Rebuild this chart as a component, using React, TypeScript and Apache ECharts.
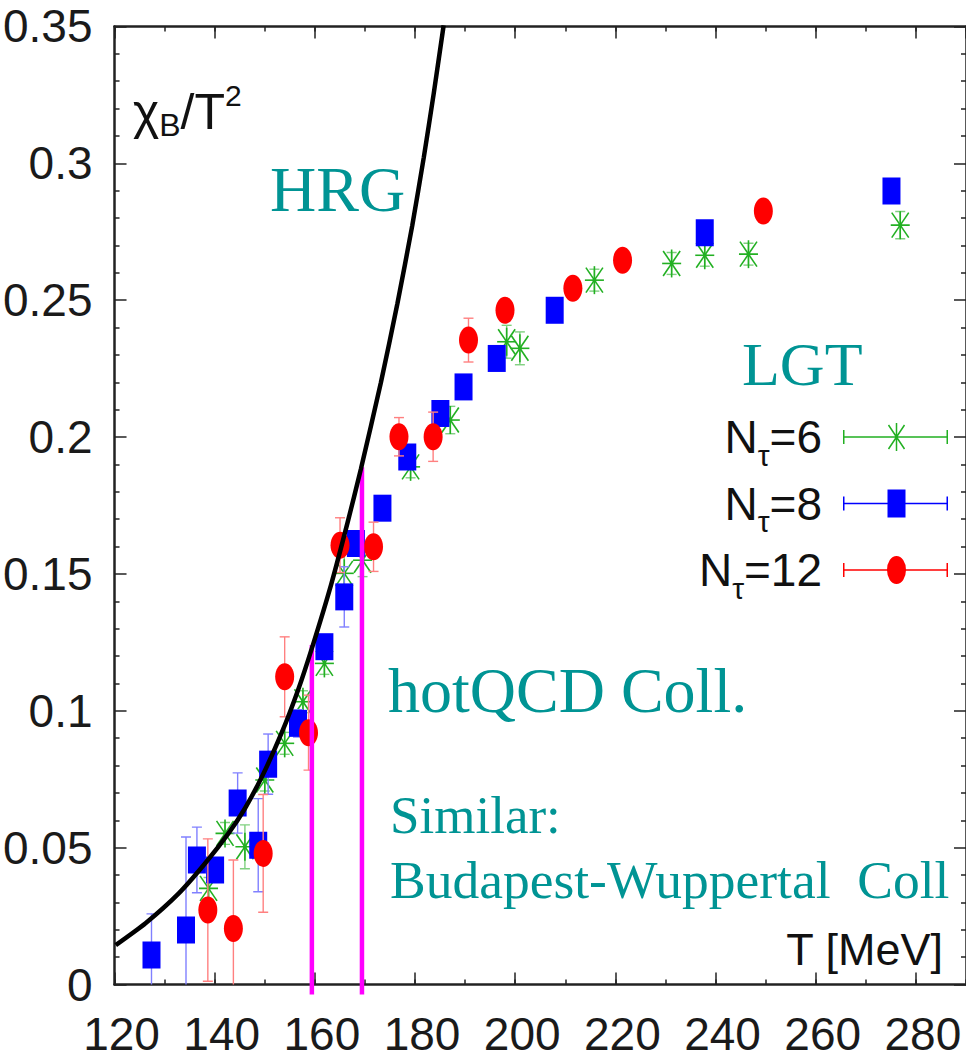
import React, { useEffect, useRef } from "react";
import * as echarts from "echarts";

// ---- Data ----
// HRG curve (T in MeV, chi_B/T^2)
const hrgT = [120.24, 126.19, 132.82, 138.1, 142.74, 146.03, 149.35, 153.32, 156.63, 159.6, 163.23, 166.55, 169.19, 173.16, 176.47, 179.44, 181.75, 183.73, 185.71];
const hrgChi = [0.0144, 0.0224, 0.0333, 0.0443, 0.0552, 0.0643, 0.0756, 0.0917, 0.1075, 0.124, 0.146, 0.1689, 0.1883, 0.2197, 0.2487, 0.2772, 0.3022, 0.3255, 0.3504];

// N_tau = 6 (green stars)
const nt6T = [138.77, 142.06, 146.03, 150.0, 153.97, 157.62, 161.9, 165.87, 169.52, 179.11, 187.04, 198.29, 200.93, 215.81, 231.23, 237.84, 246.57, 276.87];
const nt6Chi = [0.0351, 0.0552, 0.0503, 0.0747, 0.0881, 0.1033, 0.1173, 0.1502, 0.155, 0.1891, 0.2062, 0.2348, 0.2324, 0.2573, 0.2634, 0.2664, 0.2668, 0.2774];
const nt6Err = [0.004, 0.004, 0.008, 0.004, 0.004, 0.004, 0.004, 0.007, 0.006, 0.004, 0.005, 0.006, 0.006, 0.004, 0.004, 0.004, 0.004, 0.005];

// N_tau = 8 (blue squares)
const nt8T = [127.38, 134.27, 136.45, 140.08, 144.58, 148.69, 150.67, 156.63, 161.9, 165.87, 168.19, 173.49, 178.45, 185.06, 189.68, 196.31, 207.88, 237.84, 275.12];
const nt8Chi = [0.0108, 0.0199, 0.0455, 0.0418, 0.0663, 0.0509, 0.0805, 0.0954, 0.1234, 0.1416, 0.1611, 0.174, 0.1927, 0.2086, 0.2183, 0.2287, 0.2463, 0.2746, 0.2899];
const nt8Err = [0.015, 0.034, 0.012, 0.004, 0.011, 0.017, 0.011, 0.005, 0.004, 0.011, 0.004, 0.003, 0.003, 0.003, 0.003, 0.003, 0.003, 0.003, 0.003];

// N_tau = 12 (red circles)
const nt12T = [138.63, 143.73, 149.68, 153.97, 158.73, 165.02, 171.71, 176.79, 183.61, 190.67, 197.96, 211.51, 221.43, 249.54];
const nt12Chi = [0.0272, 0.0205, 0.0479, 0.1124, 0.092, 0.1605, 0.1599, 0.2001, 0.2001, 0.2354, 0.2463, 0.2543, 0.2646, 0.2826];
const nt12Err = [0.026, 0.025, 0.0215, 0.0146, 0.0137, 0.01, 0.009, 0.007, 0.009, 0.008, 0.004, 0.003, 0.003, 0.003];

// transition-temperature markers (magenta)
const tcT = [159.4, 169.4];
const tcTop = [0.124, 0.189];

// axes
const xMin = 120;
const xMax = 290;
const xStep = 20;
const yMin = 0;
const yMax = 0.35;
const yStep = 0.05;

const seriesNames = ["Nτ=6", "Nτ=8", "Nτ=12"];

const NARROW = '"Liberation Sans Narrow", "Liberation Sans", Arial, sans-serif';
const SERIF = '"Liberation Serif", "DejaVu Serif", serif';
const TEAL = "#009494";

const zip3 = (a: number[], b: number[], c: number[]) => a.map((t, i) => [t, b[i], c[i]]);

function makeRender(kind: string, markColor: string, barColor: string) {
  return (params: any, api: any) => {
    const T = api.value(0);
    const v = api.value(1);
    const e = api.value(2);
    const c = api.coord([T, v]);
    const top = api.coord([T, v + e]);
    const bot = api.coord([T, v - e]);
    const bs = { stroke: barColor, lineWidth: 1.4 };
    const children: any[] = [
      { type: "line", shape: { x1: c[0], y1: top[1], x2: c[0], y2: bot[1] }, style: bs },
      { type: "line", shape: { x1: c[0] - 5, y1: top[1], x2: c[0] + 5, y2: top[1] }, style: bs },
      { type: "line", shape: { x1: c[0] - 5, y1: bot[1], x2: c[0] + 5, y2: bot[1] }, style: bs },
    ];
    if (kind === "square") {
      children.push({ type: "rect", shape: { x: c[0] - 9, y: c[1] - 13.5, width: 18, height: 27 }, style: { fill: markColor } });
    } else if (kind === "circle") {
      children.push({ type: "ellipse", shape: { cx: c[0], cy: c[1], rx: 9.5, ry: 13.5 }, style: { fill: markColor } });
    } else {
      const ss = { stroke: markColor, lineWidth: 1.6 };
      children.push({ type: "line", shape: { x1: c[0], y1: c[1] - 14, x2: c[0], y2: c[1] + 14 }, style: ss });
      children.push({ type: "line", shape: { x1: c[0] - 9.5, y1: c[1], x2: c[0] + 9.5, y2: c[1] }, style: ss });
      children.push({ type: "line", shape: { x1: c[0] - 8.5, y1: c[1] - 12.5, x2: c[0] + 8.5, y2: c[1] + 12.5 }, style: ss });
      children.push({ type: "line", shape: { x1: c[0] + 8.5, y1: c[1] - 12.5, x2: c[0] - 8.5, y2: c[1] + 12.5 }, style: ss });
      children.push({ type: "circle", shape: { cx: c[0], cy: c[1], r: 2 }, style: { fill: markColor } });
    }
    return { type: "group", children };
  };
}

const barPath = "M0,13.25 H105 V14.75 H0 Z M0,7 H1.5 V21 H0 Z M103.5,7 H105 V21 H103.5 Z ";
const iconStar =
  "path://" + barPath +
  "M52.75,0 H54.25 V28 H52.75 Z M46.12,1.58 L62.12,25.58 L60.88,26.42 L44.88,2.42 Z M60.88,1.58 L62.12,2.42 L46.12,26.42 L44.88,25.58 Z";
const iconSquare = "path://" + barPath + "M44.5,0 H62.5 V28 H44.5 Z";
const iconCircle = "path://" + barPath + "M44,14 A9.5,14 0 1 1 63,14 A9.5,14 0 1 1 44,14 Z";

const tickStyle = { color: "#222", width: 1.5 };
const lineStyleAxis = { color: "#222", width: 2.5 };

function xAxisDef(position: string, step: number, len: number, main: boolean, labels: boolean) {
  return {
    type: "value",
    min: xMin,
    max: xMax,
    interval: step,
    position,
    axisLine: { show: main, onZero: false, lineStyle: lineStyleAxis },
    axisTick: { show: true, inside: true, length: len, lineStyle: tickStyle },
    axisLabel: labels
      ? {
          show: true,
          margin: 26,
          fontSize: 46,
          fontFamily: NARROW,
          color: "#1a1a1a",
          showMaxLabel: false,
          padding: [0, 0, 0, 14],
        }
      : { show: false },
    splitLine: { show: false },
  };
}

function yAxisDef(position: string, labels: boolean) {
  return {
    type: "value",
    min: yMin,
    max: yMax,
    interval: yStep,
    position,
    axisLine: { show: true, onZero: false, lineStyle: lineStyleAxis },
    axisTick: { show: true, inside: true, length: 12, lineStyle: tickStyle },
    minorTick: { show: true, splitNumber: 5, length: 5, lineStyle: tickStyle },
    axisLabel: labels
      ? { show: true, margin: 22, fontSize: 46, fontFamily: NARROW, color: "#1a1a1a" }
      : { show: false },
    splitLine: { show: false },
  };
}

export default function App() {
  const ref = useRef<HTMLDivElement>(null);

  useEffect(() => {
    if (!ref.current) return;
    const chart = echarts.init(ref.current, undefined, { renderer: "svg" });

    const richLegend = {
      n: { fontSize: 46, fontFamily: NARROW, color: "#111", lineHeight: 48 },
      t: { fontSize: 30, fontFamily: NARROW, color: "#111", lineHeight: 30, padding: [36, 0, 0, 0] },
    };

    const option: any = {
      animation: false,
      backgroundColor: "#ffffff",
      grid: { left: 112, right: -3, top: 26.4, bottom: 77.5 },
      xAxis: [
        xAxisDef("bottom", xStep, 12, true, true),
        xAxisDef("bottom", xStep / 2, 5, false, false),
        xAxisDef("top", xStep, 12, true, false),
        xAxisDef("top", xStep / 2, 5, false, false),
      ],
      yAxis: [yAxisDef("left", true), yAxisDef("right", false)],
      legend: {
        data: [
          { name: seriesNames[0], icon: iconStar },
          { name: seriesNames[1], icon: iconSquare },
          { name: seriesNames[2], icon: iconCircle },
        ],
        orient: "vertical",
        right: 18,
        top: 404,
        padding: 0,
        align: "right",
        itemWidth: 105,
        itemHeight: 28,
        itemGap: 0.5,
        selectedMode: false,
        formatter: (name: string) => "{n|N}{t|τ}{n|" + name.slice(2) + "}",
        textStyle: { fontSize: 46, fontFamily: NARROW, color: "#111", rich: richLegend, padding: [0, 16, 0, 0] },
      },
      graphic: [
        {
          type: "text",
          x: 133,
          y: 112,
          style: {
            text: "{a|χ}{b|B}{c|/T}{d|2}",
            verticalAlign: "middle",
            rich: {
              a: { fontSize: 50, fontFamily: NARROW, fill: "#111", lineHeight: 50 },
              b: { fontSize: 32, fontFamily: NARROW, fill: "#111", lineHeight: 32, padding: [26, 0, 0, 0] },
              c: { fontSize: 50, fontFamily: NARROW, fill: "#111", lineHeight: 50 },
              d: { fontSize: 30, fontFamily: NARROW, fill: "#111", lineHeight: 30, padding: [0, 0, 34, 0] },
            },
          },
        },
        {
          type: "text",
          x: 943,
          y: 949,
          style: { text: "T [MeV]", fontSize: 45, fontFamily: NARROW, fill: "#111", align: "right", verticalAlign: "middle" },
        },
        { type: "text", x: 270, y: 189, style: { text: "HRG", fontSize: 64, fontFamily: SERIF, fill: TEAL, verticalAlign: "middle" } },
        { type: "text", x: 742, y: 364, style: { text: "LGT", fontSize: 62, fontFamily: SERIF, fill: TEAL, verticalAlign: "middle" } },
        { type: "text", x: 388, y: 690, style: { text: "hotQCD Coll.", fontSize: 64, fontFamily: SERIF, fill: TEAL, verticalAlign: "middle" } },
        { type: "text", x: 390, y: 815, style: { text: "Similar:", fontSize: 53, fontFamily: SERIF, fill: TEAL, verticalAlign: "middle" } },
        { type: "text", x: 390, y: 880, style: { text: "Budapest-Wuppertal  Coll", fontSize: 53.5, fontFamily: SERIF, fill: TEAL, verticalAlign: "middle" } },
      ],
      series: [
        {
          name: seriesNames[0],
          type: "custom",
          xAxisIndex: 0,
          yAxisIndex: 0,
          clip: true,
          itemStyle: { color: "#22b022" },
          encode: { x: 0, y: 1 },
          renderItem: makeRender("star", "#22b022", "#7fd07f"),
          data: zip3(nt6T, nt6Chi, nt6Err),
        },
        {
          name: seriesNames[1],
          type: "custom",
          xAxisIndex: 0,
          yAxisIndex: 0,
          clip: true,
          itemStyle: { color: "#0000ff" },
          encode: { x: 0, y: 1 },
          renderItem: makeRender("square", "#0000ff", "#8080ff"),
          data: zip3(nt8T, nt8Chi, nt8Err),
        },
        {
          name: seriesNames[2],
          type: "custom",
          xAxisIndex: 0,
          yAxisIndex: 0,
          clip: true,
          itemStyle: { color: "#ff0000" },
          encode: { x: 0, y: 1 },
          renderItem: makeRender("circle", "#ff0000", "#ff8080"),
          data: zip3(nt12T, nt12Chi, nt12Err),
        },
        {
          name: "Tc",
          type: "custom",
          xAxisIndex: 0,
          yAxisIndex: 0,
          clip: false,
          encode: { x: 0, y: 1 },
          renderItem: (params: any, api: any) => {
            const topPt = api.coord([api.value(0), api.value(1)]);
            const basePt = api.coord([api.value(0), yMin]);
            return {
              type: "line",
              shape: { x1: topPt[0], y1: topPt[1], x2: basePt[0], y2: basePt[1] + 10 },
              style: { stroke: "#ff00ff", lineWidth: 4.5 },
            };
          },
          data: tcT.map((t, i) => [t, tcTop[i]]),
        },
        {
          name: "HRG",
          type: "line",
          xAxisIndex: 0,
          yAxisIndex: 0,
          showSymbol: false,
          smooth: 0.2,
          clip: true,
          lineStyle: { color: "#000", width: 4.5 },
          data: hrgT.map((t, i) => [t, hrgChi[i]]),
        },
      ],
    };

    chart.setOption(option);
    return () => chart.dispose();
  }, []);

  return <div ref={ref} style={{ position: "fixed", left: 0, top: 0, width: 966, height: 1062 }} />;
}
